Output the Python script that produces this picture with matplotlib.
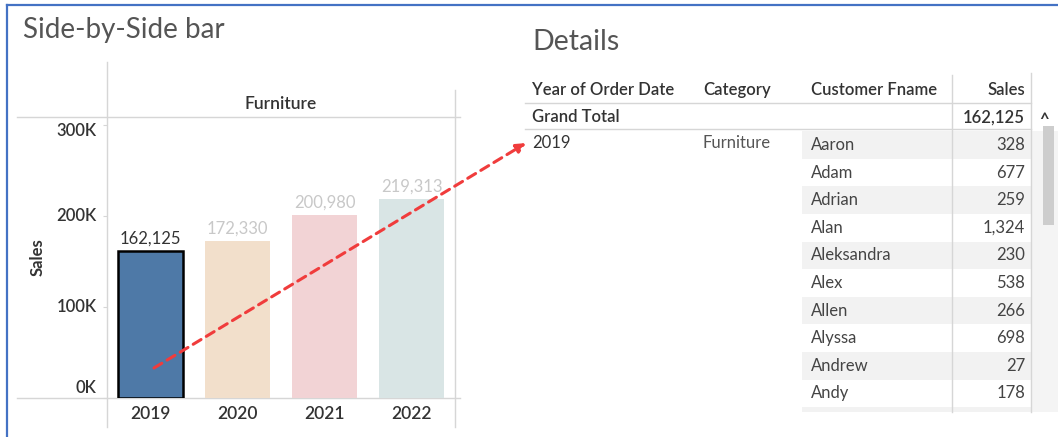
import matplotlib
matplotlib.use('Agg')
import matplotlib.pyplot as plt
from matplotlib.transforms import blended_transform_factory

plt.rcParams['font.family'] = ['Lato', 'DejaVu Sans']

# data
years = ['2019', '2020', '2021', '2022']
sales = [162125, 172330, 200980, 219313]
bar_colors = ['#4e79a7', '#f2dfcb', '#f2d3d5', '#d9e5e5']
label_colors = ['#333333', '#c8c8c8', '#c8c8c8', '#c8c8c8']
yticks = [0, 100000, 200000, 300000]
ytick_labels = ['0K', '100K', '200K', '300K']

names = ['Aaron', 'Adam', 'Adrian', 'Alan', 'Aleksandra', 'Alex', 'Allen', 'Alyssa', 'Andrew', 'Andy']
name_sales = [328, 677, 259, 1324, 230, 538, 266, 698, 27, 178]
grand_total = 162125
headers = ['Year of Order Date', 'Category', 'Customer Fname', 'Sales']

W, H = 1058, 437
fig = plt.figure(figsize=(W / 100, H / 100), dpi=100)

# overlay in pixel coords for frame lines
bg = fig.add_axes([0, 0, 1, 1])
bg.set_xlim(0, W)
bg.set_ylim(H, 0)
bg.axis('off')
grid = '#d6d6d6'
bg.plot([107, 107], [62, 427], color=grid, lw=1)
bg.plot([455, 455], [90, 427], color=grid, lw=1)
bg.plot([17, 460], [117, 117], color=grid, lw=1)
bg.plot([17, 460], [398, 398], color=grid, lw=1)
# blue border (top + left)
bg.plot([7, 7], [5, H + 5], color='#4472c4', lw=1.6)
bg.plot([7, W + 5], [5, 5], color='#4472c4', lw=1.6)

fig.text(23 / W, 1 - 38 / H, 'Side-by-Side bar', fontsize=20, color='#555555', va='baseline')
fig.text(532 / W, 1 - 50 / H, 'Details', fontsize=20.5, color='#555555', va='baseline')

# bar chart
ax = fig.add_axes([107 / W, 1 - 398 / H, 348 / W, 281 / H])
ax.set_facecolor('none')
x = list(range(len(years)))
bars = ax.bar(x, sales, width=0.75, color=bar_colors)
bars[0].set_edgecolor('black')
bars[0].set_linewidth(1.8)
ax.set_xlim(-0.5, 3.5)
ax.set_ylim(0, 309000)
for sp in ax.spines.values():
    sp.set_visible(False)
ax.set_xticks(x)
ax.set_xticklabels(years, fontsize=12.5, color='#333333', fontweight='semibold')
ax.tick_params(axis='x', length=0, pad=6)
ax.set_yticks(yticks)
ax.set_yticklabels([])
ax.tick_params(axis='y', length=3, color=grid)
tr = blended_transform_factory(ax.transAxes, ax.transData)
for v, lab in zip(yticks, ytick_labels):
    dy = 0
    if v == 0:
        dy = 11000
    if v == 300000:
        dy = -6000
    ax.text(-0.03, v + dy, lab, transform=tr, ha='right', va='center',
            fontsize=12, color='#333333', fontweight='semibold')
for i, v in enumerate(sales):
    ax.annotate(f'{v:,}', (i, v), xytext=(0, 3), textcoords='offset points',
                ha='center', va='bottom', fontsize=12, color=label_colors[i])
ax.set_ylabel('Sales', fontsize=12, fontweight='bold', color='#333333', va='center')
ax.yaxis.set_label_coords(-0.198, 0.5)
ax.text(0.5, 1.046, 'Furniture', transform=ax.transAxes, ha='center', va='center',
        fontsize=12.5, fontweight='semibold', color='#333333')

# details table, x in pixels, y in row units
tax = fig.add_axes([500 / W, 0, 558 / W, 1])
tax.set_facecolor('none')
tax.axis('off')
rh = 27.6
tax.set_xlim(500, W)
tax.set_ylim((H - 145) / rh, -145 / rh)

for i in range(len(names) + 1):
    if i % 2 == 0:
        top = i - 0.5
        bot = min(i + 0.5, 9.67)
        tax.fill_between([802, 1031], [top, top], [bot, bot], color='#f2f2f2', lw=0)
# scroll bar
tax.fill_between([1032, W], [-0.5, -0.5], [9.67, 9.67], color='#f4f4f4', lw=0)
tax.fill_between([1043, 1054], [-0.69, -0.69], [2.9, 2.9], color='#cdcdcd', lw=0)
tax.text(1044, -0.9, '^', ha='center', va='center', fontsize=12, color='#333333', fontweight='bold')

tax.plot([525, 1031], [-1.52, -1.52], color=grid, lw=1)
tax.plot([525, 1031], [-0.57, -0.57], color=grid, lw=1)
tax.plot([952, 952], [-2.53, 9.67], color=grid, lw=1)
tax.plot([1031, 1031], [-2.6, 9.67], color=grid, lw=1)

fs = 12
hx = [532, 703, 811, 1025]
for j, h in enumerate(headers):
    tax.text(hx[j], -2, h, ha='right' if j == 3 else 'left', va='center',
             fontsize=fs, color='#333333', fontweight='semibold')
tax.text(532, -1, 'Grand Total', ha='left', va='center', fontsize=fs,
         color='#333333', fontweight='semibold')
tax.text(1025, -1, f'{grand_total:,}', ha='right', va='center', fontsize=fs,
         color='#333333', fontweight='semibold')
tax.text(532, -0.07, '2019', ha='left', va='center', fontsize=fs, color='#333333')
tax.text(703, -0.07, 'Furniture', ha='left', va='center', fontsize=fs, color='#555555')
for i, (n, s) in enumerate(zip(names, name_sales)):
    tax.text(811, i, n, ha='left', va='center', fontsize=fs, color='#444444')
    tax.text(1025, i, f'{s:,}', ha='right', va='center', fontsize=fs, color='#444444')

# red dashed arrow from 2019 bar to the table row
ax.annotate('', xy=(526, -0.07), xycoords=tax.transData, xytext=(0.04, 33000),
            textcoords='data', annotation_clip=False,
            arrowprops=dict(arrowstyle='-|>', color='#f03c3c', lw=2.2,
                            linestyle=(0, (3, 2)), shrinkA=0, shrinkB=0,
                            mutation_scale=14))

fig.savefig('out.png', dpi=100)
